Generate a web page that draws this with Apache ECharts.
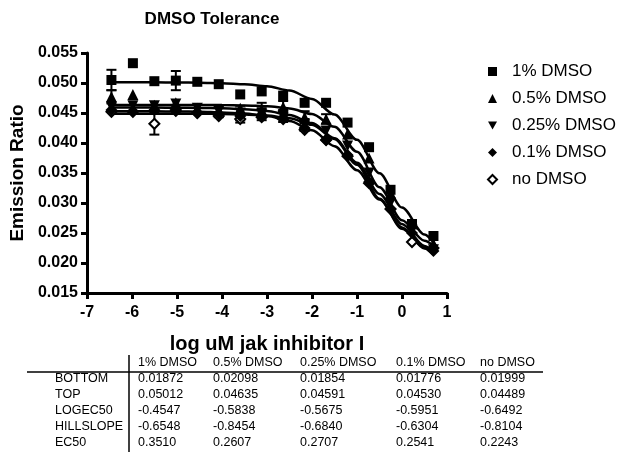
<!DOCTYPE html>
<html>
<head>
<meta charset="utf-8">
<script src="https://cdn.jsdelivr.net/npm/echarts@6/dist/echarts.min.js"></script>
<style>
body{margin:0;background:#fff}
#chart{width:630px;height:454px}
</style>
</head>
<body>
<div id="chart"></div>
<script>
// log uM concentrations (3-fold dilution)
var doses = [-6.457,-5.98,-5.503,-5.026,-4.549,-4.072,-3.595,-3.118,-2.641,-2.164,-1.687,-1.21,-0.732,-0.255,0.222,0.699]
var names = ['1% DMSO','0.5% DMSO','0.25% DMSO','0.1% DMSO','no DMSO']

var dmso1   = [0.0505,0.0533,0.0503,0.0504,0.0502,0.0498,0.0481,0.0486,0.0479,0.0467,0.0467,0.0434,0.0393,0.0322,0.0265,0.0245]
var dmso05  = [0.0477,0.0481,0.0463,0.0467,0.0458,0.0455,0.0458,0.0455,0.0460,0.0443,0.0440,0.0415,0.0375,0.0315,0.0265,0.0232]
var dmso025 = [0.0460,0.0462,0.0462,0.0465,0.0458,0.0453,0.0450,0.0448,0.0445,0.0430,0.0420,0.0395,0.0350,0.0300,0.0255,0.0222]
var dmso01  = [0.0455,0.0453,0.0455,0.0453,0.0450,0.0448,0.0445,0.0445,0.0442,0.0425,0.0405,0.0380,0.0335,0.0290,0.0250,0.0220]
var dmso0   = [0.0452,0.0452,0.0432,0.0455,0.0450,0.0445,0.0440,0.0443,0.0440,0.0422,0.0405,0.0378,0.0333,0.0290,0.0235,0.0225]

// error bar half-widths (0 = none drawn)
var err1   = [0.0017,0,0,0.0016,0,0,0,0,0,0,0,0,0,0,0,0]
var err05  = [0.0011,0,0,0,0,0,0,0.0012,0.0010,0.0010,0.0008,0,0,0,0,0]
var err025 = [0,0,0,0,0,0.0010,0.0012,0.0010,0.0010,0.0010,0,0,0,0,0,0]
var err01  = [0,0,0,0,0,0,0,0,0,0,0,0,0,0,0,0]
var err0   = [0,0,0.0018,0,0,0,0.0006,0,0,0,0,0,0,0,0,0]

// fitted curves
var fitX   = [-6.457,-6,-5.5,-5,-4.5,-4,-3.5,-3,-2.5,-2,-1.5,-1,-0.5,0,0.5,0.699]
var fit1   = [0.05012,0.05011,0.05011,0.05009,0.05005,0.04997,0.04980,0.04946,0.04874,0.04734,0.04474,0.04053,0.03496,0.02924,0.02474,0.02341]
var fit05  = [0.04635,0.04635,0.04635,0.04635,0.04634,0.04632,0.04626,0.04612,0.04576,0.04483,0.04270,0.03854,0.03263,0.02714,0.02372,0.02291]
var fit025 = [0.04591,0.04591,0.04590,0.04589,0.04585,0.04579,0.04564,0.04533,0.04466,0.04332,0.04079,0.03671,0.03150,0.02649,0.02284,0.02182]
var fit01  = [0.04529,0.04529,0.04528,0.04525,0.04521,0.04510,0.04490,0.04449,0.04367,0.04213,0.03946,0.03547,0.03058,0.02593,0.02243,0.02141]
var fit0   = [0.04489,0.04489,0.04489,0.04488,0.04487,0.04484,0.04477,0.04458,0.04413,0.04304,0.04066,0.03638,0.03072,0.02570,0.02260,0.02185]

var yTicks = [0.015,0.055,0.005]
var xTicks = [-7,1,1]

// table of fit results
var rowNames = ['BOTTOM','TOP','LOGEC50','HILLSLOPE','EC50']
var col1   = ['0.01872','0.05012','-0.4547','-0.6548','0.3510']
var col05  = ['0.02098','0.04635','-0.5838','-0.8454','0.2607']
var col025 = ['0.01854','0.04591','-0.5675','-0.6840','0.2707']
var col01  = ['0.01776','0.04530','-0.5951','-0.6304','0.2541']
var col0   = ['0.01999','0.04489','-0.6492','-0.8104','0.2243']

var FONT = '"Liberation Sans", Arial, sans-serif'
var downTri = 'path://M0,0 L10,0 L5,9 Z'

function pts(vals){ return doses.map(function(x,i){ return [x, vals[i]] }) }
function fitPts(vals){ return fitX.map(function(x,i){ return [x, vals[i]] }) }
function errPts(vals, errs){
    var out=[]
    doses.forEach(function(x,i){ if(errs[i]>0) out.push([x, vals[i]-errs[i], vals[i]+errs[i]]) })
    return out
}
function renderErr(params, api){
    var x=api.value(0), lo=api.value(1), hi=api.value(2)
    var a=api.coord([x,lo]), b=api.coord([x,hi]), w=5
    var st={stroke:'#000',lineWidth:2}
    return {type:'group',children:[
        {type:'line',shape:{x1:a[0],y1:a[1],x2:b[0],y2:b[1]},style:st},
        {type:'line',shape:{x1:a[0]-w,y1:a[1],x2:a[0]+w,y2:a[1]},style:st},
        {type:'line',shape:{x1:b[0]-w,y1:b[1],x2:b[0]+w,y2:b[1]},style:st}
    ]}
}

var sets = [
    {name:names[0], vals:dmso1,   errs:err1,   fit:fit1,   symbol:'rect',     size:10, z:9},
    {name:names[1], vals:dmso05,  errs:err05,  fit:fit05,  symbol:'triangle', size:11, z:8},
    {name:names[2], vals:dmso025, errs:err025, fit:fit025, symbol:downTri,    size:11, z:7},
    {name:names[3], vals:dmso01,  errs:err01,  fit:fit01,  symbol:'diamond',  size:12, z:6},
    {name:names[4], vals:dmso0,   errs:err0,   fit:fit0,   symbol:'diamond',  size:10, z:4}
]

var series=[]
sets.forEach(function(s,k){
    series.push({
        name:'fit'+k, type:'line', data:fitPts(s.fit), smooth:0.3, smoothMonotone:'x',
        showSymbol:false, symbol:'none', silent:true, z:2,
        lineStyle:{color:'#000',width:2.5}
    })
    series.push({
        name:'err'+k, type:'custom', data:errPts(s.vals,s.errs), renderItem:renderErr,
        encode:{x:0,y:[1,2]}, silent:true, z:3
    })
})
sets.forEach(function(s,k){
    series.push({
        name:s.name, type:'scatter', data:pts(s.vals), symbol:s.symbol, symbolSize:s.size,
        z:s.z,
        itemStyle:{color:k==4?'#fff':'#000', borderColor:'#000', borderWidth:k==4?2:0, opacity:1}
    })
})

// table graphics
var tableCols=[col1,col05,col025,col01,col0]
var colX=[138,213,300,396,480]
var rowY=[379,395,411,427,443]
var txt={fill:'#000',font:'12.5px '+FONT}
var graphics=[]
names.forEach(function(n,j){
    graphics.push({type:'text',left:colX[j],top:356,style:Object.assign({text:n},txt)})
})
rowNames.forEach(function(r,i){
    graphics.push({type:'text',left:55,top:rowY[i]-7,style:Object.assign({text:r},txt)})
    tableCols.forEach(function(c,j){
        graphics.push({type:'text',left:colX[j],top:rowY[i]-7,style:Object.assign({text:c[i]},txt)})
    })
})
graphics.push({type:'line',shape:{x1:27,y1:372,x2:543,y2:372},style:{stroke:'#000',lineWidth:1.5}})
graphics.push({type:'line',shape:{x1:129,y1:355,x2:129,y2:452},style:{stroke:'#000',lineWidth:1.5}})

var chart=echarts.init(document.getElementById('chart'))
chart.setOption({
    backgroundColor:'#fff',
    animation:false,
    title:{
        text:'DMSO Tolerance', left:207, top:6, textAlign:'center',
        textStyle:{fontFamily:FONT,fontWeight:'bold',fontSize:17,color:'#000'}
    },
    legend:{
        orient:'vertical', left:482, top:58, itemGap:10, itemWidth:9, itemHeight:9,
        data:[
            {name:names[0],icon:'rect'},
            {name:names[1],icon:'triangle'},
            {name:names[2],icon:downTri},
            {name:names[3],icon:'diamond'},
            {name:names[4],icon:'diamond',itemStyle:{color:'#fff',borderColor:'#000',borderWidth:2}}
        ],
        textStyle:{fontFamily:FONT,fontSize:17,color:'#000',lineHeight:17,padding:[0,0,0,10]}
    },
    grid:{left:87,right:183,top:53,bottom:161},
    xAxis:{
        type:'value', min:xTicks[0], max:xTicks[1], interval:xTicks[2],
        name:'log uM jak inhibitor I', nameLocation:'middle', nameGap:41,
        nameTextStyle:{fontFamily:FONT,fontWeight:'bold',fontSize:20,color:'#000'},
        axisLine:{show:true,onZero:false,lineStyle:{color:'#000',width:3}},
        axisTick:{show:true,length:6,lineStyle:{color:'#000',width:3}},
        axisLabel:{fontFamily:FONT,fontWeight:'bold',fontSize:16,color:'#000',margin:12},
        splitLine:{show:false}
    },
    yAxis:{
        type:'value', min:yTicks[0], max:yTicks[1], interval:yTicks[2],
        name:'Emission Ratio', nameLocation:'middle', nameGap:58,
        nameTextStyle:{fontFamily:FONT,fontWeight:'bold',fontSize:19,color:'#000'},
        axisLine:{show:true,onZero:false,lineStyle:{color:'#000',width:3}},
        axisTick:{show:true,length:6,lineStyle:{color:'#000',width:3}},
        axisLabel:{fontFamily:FONT,fontWeight:'bold',fontSize:16,color:'#000',margin:9,
            formatter:function(v){return v.toFixed(3)}},
        splitLine:{show:false}
    },
    series:series,
    graphic:graphics
})
</script>
</body>
</html>
